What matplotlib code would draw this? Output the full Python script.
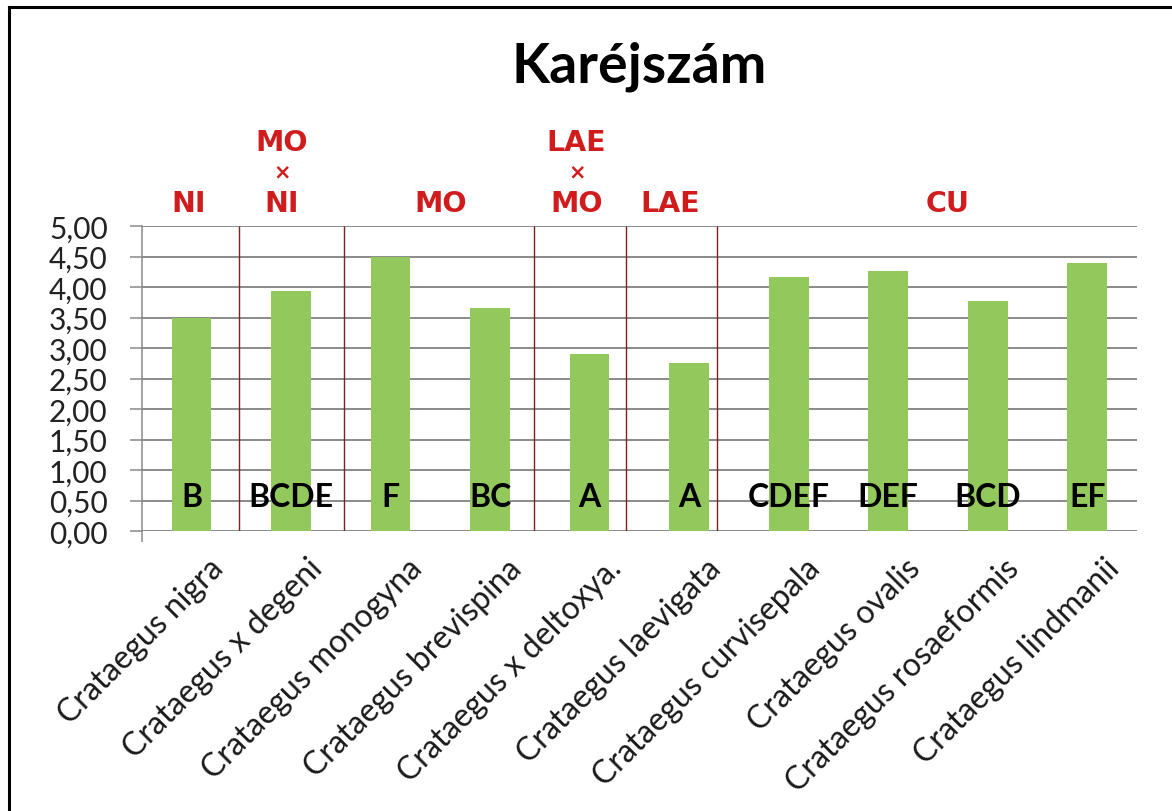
import matplotlib.pyplot as plt
import matplotlib.transforms as mtransforms
from matplotlib.lines import Line2D
import numpy as np

# Karéjszám – átlagértékek fajonként
species = ["Crataegus nigra", "Crataegus x degeni", "Crataegus monogyna",
           "Crataegus brevispina", "Crataegus x deltoxya.", "Crataegus laevigata",
           "Crataegus curvisepala", "Crataegus ovalis", "Crataegus rosaeformis",
           "Crataegus lindmanii"]
values = [3.49, 3.94, 4.50, 3.66, 2.90, 2.76, 4.17, 4.26, 3.77, 4.40]
letters = ["B", "BCDE", "F", "BC", "A", "A", "CDEF", "DEF", "BCD", "EF"]

# csoportok (szekciók) és elválasztó vonalaik
group_labels = [["NI"], ["MO", "NI"], ["MO"], ["LAE", "MO"], ["LAE"], ["CU"]]
group_x = [-0.03, 0.91, 2.5, 3.87, 4.81, 7.6]
separators = [0.48, 1.53, 3.44, 4.37, 5.28]

yticks = np.arange(0, 5.01, 0.5)
ytick_labels = [f"{v:.2f}".replace(".", ",") for v in yticks]

W, H = 1172, 812
fig = plt.figure(figsize=(W / 100, H / 100), dpi=100)
fig.patch.set_facecolor("white")

left, right, top, bottom = 141.7, 1137, 227, 532
ax = fig.add_axes([left / W, 1 - bottom / H, (right - left) / W, (bottom - top) / H])

grid_c = "#8a8a8a"
green = "#92c85c"
red = "#d01c1c"

x = np.arange(len(species))
ax.bar(x, values, width=0.4, color=green, zorder=3)

ax.set_xlim(-0.5, len(species) - 0.5)
ax.set_ylim(0, 5)
ax.set_yticks(yticks)
ax.set_yticklabels(ytick_labels, fontsize=21.5, family="Lato", color="#222222")
ax.yaxis.grid(True, color=grid_c, linewidth=1.4, zorder=0)
ax.set_axisbelow(True)
ax.tick_params(axis="y", direction="out", length=8.5, width=1.1, color=grid_c, pad=16)

for s in ("top", "right", "bottom"):
    ax.spines[s].set_visible(False)
ax.spines["left"].set_color(grid_c)
ax.spines["left"].set_linewidth(1.1)
ax.spines["left"].set_zorder(4)

# x tengely: csak a tengely alján egy kis kiálló jel
ax.set_xticks([-0.5], minor=True)
ax.tick_params(axis="x", which="minor", direction="out", length=8, width=1.1, color=grid_c)
ax.set_xticks(x)
ax.tick_params(axis="x", which="major", length=0, pad=6)
ax.set_xticklabels(species, rotation=45, ha="right", va="center",
                   rotation_mode="anchor", fontsize=23, family="Lato", color="#1a1a1a")
shift = mtransforms.ScaledTranslation(0.27, -0.24, fig.dpi_scale_trans)
for lab in ax.get_xticklabels():
    lab.set_transform(lab.get_transform() + shift)

# szekcióhatárok
ax.vlines(separators, 0, 5, color="#7a2222", linewidth=1.0, zorder=2)

# szignifikancia-betűk az oszlopokon
for xi, lt in zip(x, letters):
    ax.text(xi, 0.41, lt, ha="center", va="baseline", fontsize=23,
            fontweight="bold", family="Lato", color="black", zorder=5)

# csoportcímkék a diagram fölött
xform = mtransforms.blended_transform_factory(ax.transData, ax.transAxes)
for gx, parts in zip(group_x, group_labels):
    ax.annotate(parts[-1], xy=(gx, 1), xycoords=xform, xytext=(0, 11),
                textcoords="offset points", ha="center", va="baseline",
                fontsize=20.5, fontweight="bold", family="DejaVu Sans",
                color=red, annotation_clip=False)
    if len(parts) > 1:
        ax.annotate("×", xy=(gx, 1), xycoords=xform, xytext=(0, 39.5),
                    textcoords="offset points", ha="center", va="center",
                    fontsize=15, fontweight="bold", family="DejaVu Sans",
                    color=red, annotation_clip=False)
        ax.annotate(parts[0], xy=(gx, 1), xycoords=xform, xytext=(0, 55),
                    textcoords="offset points", ha="center", va="baseline",
                    fontsize=20.5, fontweight="bold", family="DejaVu Sans",
                    color=red, annotation_clip=False)

fig.text(639 / W, 1 - 83 / H, "Karéjszám", ha="center", va="baseline",
         fontsize=40, fontweight="bold", family="Lato", color="black")

# keret a bal és felső oldalon
fig.add_artist(Line2D([8.5 / W, 8.5 / W], [0, 1 - 7.5 / H], transform=fig.transFigure,
                      color="black", linewidth=2.2))
fig.add_artist(Line2D([8.5 / W, 1], [1 - 7.5 / H, 1 - 7.5 / H], transform=fig.transFigure,
                      color="black", linewidth=2.2))

fig.savefig("out.png", dpi=100)
